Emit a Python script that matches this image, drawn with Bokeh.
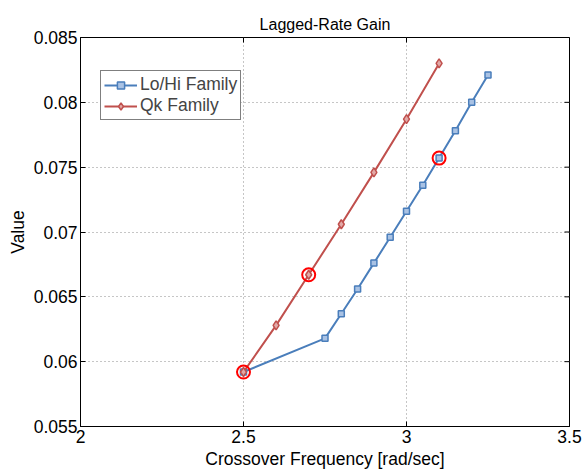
import math
from bokeh.plotting import figure
from bokeh.models import FixedTicker, CustomJSTickFormatter, Range1d, Legend, LegendItem
from bokeh.embed import file_html
from bokeh.resources import INLINE

# Crossover frequency sweep for each compensator family
freq_lohi = [2.5, 2.75, 2.8, 2.85, 2.9, 2.95, 3.0, 3.05, 3.1, 3.15, 3.2, 3.25]
gain_lohi = [0.0592, 0.0618, 0.0637, 0.0656, 0.0676, 0.0696, 0.0716, 0.0736,
             0.0757, 0.0778, 0.0800, 0.0821]

freq_qk = [2.5, 2.6, 2.7, 2.8, 2.9, 3.0, 3.1]
gain_qk = [0.0592, 0.0628, 0.0667, 0.0706, 0.0746, 0.0787, 0.0830]

# Highlighted design points
sel_freq = [2.5, 2.7, 3.1]
sel_gain = [0.0592, 0.0667, 0.0757]

x_ticks = [2, 2.5, 3, 3.5]
y_ticks = [0.055, 0.06, 0.065, 0.07, 0.075, 0.08, 0.085]
x_lo, x_hi = 2, 3.5
y_lo, y_hi = 0.055, 0.085

BLUE = "#4a7ebb"
RED = "#c0504d"
FONT = "Liberation Sans"
FS = "17.5px"

p = figure(width=584, height=471, output_backend="svg", toolbar_location=None,
           x_range=Range1d(x_lo, x_hi), y_range=Range1d(y_lo, y_hi),
           min_border_left=80, min_border_right=15, min_border_top=37,
           min_border_bottom=45, x_axis_label="Crossover Frequency [rad/sec]",
           y_axis_label="Value", title="Lagged-Rate Gain")

p.background_fill_color = "white"
p.border_fill_color = "white"
p.outline_line_color = "black"
p.outline_line_width = 1

fmt = CustomJSTickFormatter(code="return parseFloat(tick.toFixed(3)).toString();")

for ax, ticks in ((p.xaxis[0], x_ticks), (p.yaxis[0], y_ticks)):
    ax.ticker = FixedTicker(ticks=ticks)
    ax.formatter = fmt
    ax.major_tick_in = 5
    ax.major_tick_out = 0
    ax.minor_tick_line_color = None
    ax.axis_line_color = "black"
    ax.major_tick_line_color = "black"
    ax.major_label_text_font = FONT
    ax.major_label_text_font_size = FS
    ax.major_label_text_color = "black"
    ax.axis_label_text_font = FONT
    ax.axis_label_text_font_size = FS
    ax.axis_label_text_font_style = "normal"
    ax.axis_label_text_color = "black"
    ax.major_label_standoff = 3
    ax.axis_label_standoff = 3

p.xgrid.ticker = FixedTicker(ticks=x_ticks)
p.ygrid.ticker = FixedTicker(ticks=y_ticks)
for g in (p.xgrid[0], p.ygrid[0]):
    g.grid_line_color = "#8c8c8c"
    g.grid_line_dash = "1 3"
    g.grid_line_width = 1

# Inward tick marks along the top and right edges (half of each dash is clipped)
p.scatter(x_ticks, [y_hi] * len(x_ticks), marker="dash", angle=math.pi / 2,
          size=10, line_color="black", line_width=1)
p.scatter([x_hi] * len(y_ticks), y_ticks, marker="dash", size=10,
          line_color="black", line_width=1)

p.title.align = "center"
p.title.text_font = FONT
p.title.text_font_size = "16px"
p.title.text_font_style = "normal"
p.title.text_color = "black"
p.title.standoff = 9

l1 = p.line(freq_lohi, gain_lohi, line_color=BLUE, line_width=2)
m1 = p.scatter(freq_lohi, gain_lohi, marker="square", size=6, line_color=BLUE,
               fill_color="#a9c2e4", line_width=1.5)
l2 = p.line(freq_qk, gain_qk, line_color=RED, line_width=2)
m2 = p.scatter(freq_qk, gain_qk, marker="diamond", size=9, line_color=RED,
               fill_color="#e2a9a7", line_width=1.5)

p.scatter(sel_freq, sel_gain, marker="circle", size=13, line_color="#ff0000",
          fill_color=None, line_width=2)

legend = Legend(items=[LegendItem(label="Lo/Hi Family", renderers=[l1, m1]),
                       LegendItem(label="Qk Family", renderers=[l2, m2])],
                location=(20, 306))
legend.border_line_color = "black"
legend.border_line_width = 1.5
legend.background_fill_alpha = 1
legend.label_text_font = FONT
legend.label_text_font_size = FS
legend.glyph_width = 33
legend.glyph_height = 18
legend.label_standoff = 3
legend.spacing = 0
legend.padding = 3
legend.margin = 0
legend.label_height = 20
p.add_layout(legend, "center")

open("out.html", "w").write(file_html(p, INLINE))
